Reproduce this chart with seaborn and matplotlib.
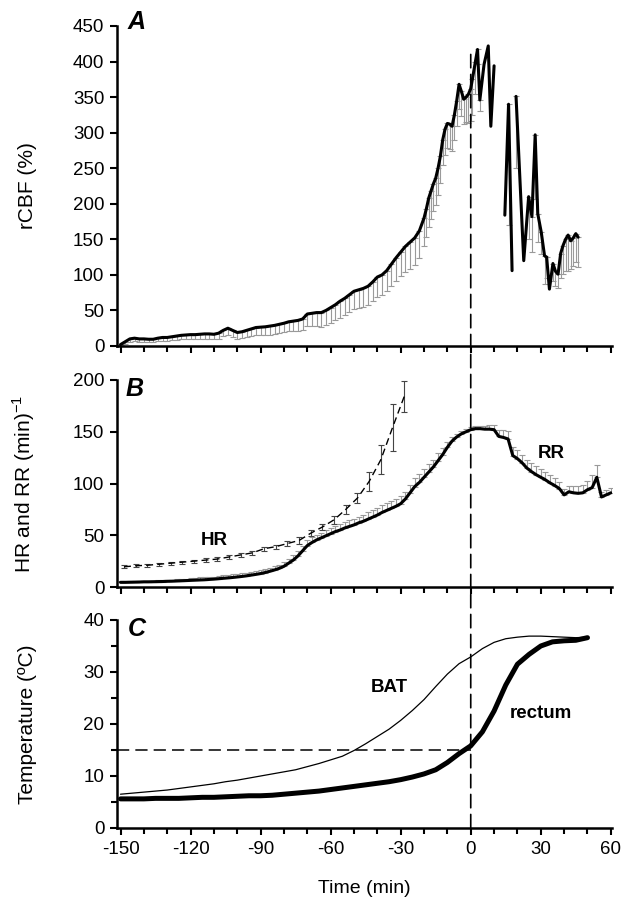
import numpy as np
import pandas as pd
import matplotlib
matplotlib.use('Agg')
import matplotlib.pyplot as plt
from matplotlib.patches import ConnectionPatch
from matplotlib.ticker import MultipleLocator
import seaborn as sns

# ---- panel A: rCBF (%) ----
cbf_t_early = np.arange(-150, -21, 2)
cbf_early = [2, 6, 10, 11, 10, 10, 9.5, 9.5, 11, 12, 12, 13, 14, 15, 15.5,
             16, 16, 16.5, 17, 17, 16.5, 18, 22, 25, 22, 19, 20, 22, 24, 26,
             26.5, 27, 28, 29, 30.5, 32, 34, 35, 36, 38, 45, 46, 47, 47, 50,
             54, 58, 63, 67, 72, 77, 79, 81, 84, 90, 97, 100, 106, 115, 124, 132, 140, 146, 152, 162]
cbf_err_early = [2, 3, 4, 4, 4, 4, 4, 4, 4, 5, 5, 5, 5, 5, 6,
                 6, 6, 6, 7, 7, 7, 8, 8, 10, 10, 9, 9, 10, 10, 11,
                 11, 11, 12, 12, 12, 13, 13, 14, 15, 16, 17, 18, 19, 20, 20,
                 22, 22, 23, 24, 24, 25, 25, 26, 26, 27, 28, 28, 29, 30, 32, 34, 36, 38, 38, 38]

cbf_t_peak = [-20, -19, -18, -17, -16, -15, -14, -13, -12, -11, -10, -9, -8, -7, -6, -5, -4,
              -3, -2, -1, 0, 0.7, 2, 2.9, 3.9, 5.7, 7.5, 8.6, 10]
cbf_peak = [180, 193, 208, 218, 228, 236, 250, 267, 290, 305, 313, 312, 309, 325, 345, 368, 358,
            347, 350, 354, 362, 375, 400, 417, 346, 396, 422, 309, 394]
cbf_err_peak = [40, 40, 40, 40, 38, 38, 38, 38, 36, 36, 35, 35, 35, 35, 35, 35, 35,
                35, 35, 40, 45, 50, 45, 20, 16, 0, 0, 0, 0]

cbf_t_late1 = [14.6, 16.2, 17.7]
cbf_late1 = [184, 340, 106]
cbf_err_late1 = [0, 170, 0]

cbf_t_late2 = [19.4, 22.7, 24.8, 26.2, 27.6, 28.7, 30.2, 31.6, 32.5, 33.7, 35.2, 36.3, 37.4,
               38.5, 39.5, 40.6, 41.7, 42.8, 43.9, 45, 46]
cbf_late2 = [351, 120, 210, 182, 297, 186, 160, 127, 125, 80, 116, 105, 101,
             130, 141, 150, 156, 148, 152, 158, 153]
cbf_err_late2 = [100, 0, 60, 50, 90, 40, 30, 40, 30, 0, 25, 20, 20,
                 35, 40, 45, 50, 40, 40, 40, 42]

# ---- panel B: HR and RR (min^-1) ----
hr_t = np.arange(-148.5, -28, 5)
hr = [19.5, 20.5, 21, 22, 23, 24, 25, 26, 27, 29, 31, 33, 37,
      39, 42, 45, 52, 58, 65, 75, 86, 102, 123, 154, 184]
hr_err = [1.5, 1.5, 1.5, 1.5, 1.5, 1.5, 1.5, 2, 2, 2, 2, 2, 2,
          2, 2.5, 3, 3, 3, 4, 4, 5, 9, 14, 23, 15]

rr_t = np.arange(-150, 61, 2)
rr = [4.5, 4.5, 4.6, 4.7, 4.8, 5.0, 5.0, 5.1, 5.2, 5.3, 5.5, 5.6, 5.8, 6.0, 6.2,
      6.4, 6.6, 6.8, 7.0, 7.3, 7.6, 8.0, 8.4, 8.8, 9.2, 9.7, 10.2, 10.8, 11.5, 12.2,
      13.0, 14.0, 15.2, 16.5, 18.0, 20.0, 23.0, 26.0, 30.0, 35.0, 40.0, 43.0, 45.5, 47.5, 49.5,
      51.5, 53.5, 55.0, 57.0, 58.5, 60.0, 62.0, 63.5, 65.5, 67.5, 69.5, 72.0, 74.0, 76.0, 78.0,
      80.5, 85.0, 91.0, 97.0, 101.0, 106.0, 111.0, 116.0, 122.0, 128.0, 135.0, 141.0, 145.0, 148.0, 150.0,
      152.0, 153.0, 153.0, 152.5, 152.5, 152.0, 145.5, 144.5, 143.0, 127.0, 124.0, 120.0, 115.0, 111.5, 108.5,
      106.0, 103.5, 100.5, 98.0, 95.0, 89.0, 92.0, 91.0, 90.5, 91.0, 94.0, 96.0, 106.0, 87.0, 89.0, 91.0]
rr_err = [1, 1, 1, 1, 1, 1, 1, 1, 1.5, 1.5, 1.5, 1.5, 2, 2, 2,
          2, 2, 2.5, 2.5, 2.5, 2.5, 2.5, 3, 3, 3, 3, 3, 3, 3, 3,
          3, 3, 3, 3.5, 3.5, 4, 4, 4.5, 4.5, 5, 5, 5, 5, 5, 5.5,
          5.5, 5.5, 6, 6, 6, 6, 6, 6.5, 6.5, 6.5, 7, 7, 7, 7, 7,
          7, 7, 8, 8, 8, 8, 8, 7, 7, 6, 5, 4, 3, 3, 2.5,
          2.5, 2.5, 3, 3, 4, 5, 6, 7, 8, 8, 8, 8, 8, 8, 8,
          8, 8, 8, 7, 6, 6, 6, 7, 7, 8, 8, 12, 12, 5, 5, 5]

# ---- panel C: temperature (ºC) ----
temp_t = np.arange(-150, 51, 5)
bat = [6.5, 6.7, 6.9, 7.1, 7.3, 7.6, 7.9, 8.2, 8.5, 8.9, 9.2, 9.6, 10.0, 10.4,
       10.8, 11.2, 11.8, 12.4, 13.1, 13.8, 14.9, 16.2, 17.6, 19.0, 20.7, 22.6, 24.7,
       27.2, 29.6, 31.6, 32.9, 34.5, 35.7, 36.4, 36.7, 36.9, 36.9, 36.8, 36.7, 36.6, 36.7]
rectum = [5.6, 5.6, 5.6, 5.7, 5.7, 5.7, 5.8, 5.9, 5.9, 6.0, 6.1, 6.2, 6.2, 6.3,
          6.5, 6.7, 6.9, 7.1, 7.4, 7.7, 8.0, 8.3, 8.6, 8.9, 9.3, 9.8, 10.4,
          11.2, 12.6, 14.3, 15.8, 18.5, 22.5, 27.5, 31.5, 33.4, 35.0, 35.8, 36.0, 36.1, 36.6]
temp_ref = 15
onset_t = 0

sns.set_style('ticks', {'axes.edgecolor': 'black', 'text.color': 'black',
                        'axes.labelcolor': 'black', 'xtick.color': 'black',
                        'ytick.color': 'black'})
plt.rcParams['font.family'] = ['Liberation Sans', 'DejaVu Sans']
plt.rcParams['axes.linewidth'] = 1.8
plt.rcParams['axes.unicode_minus'] = False

W, H = 632, 902
fig = plt.figure(figsize=(W / 100, H / 100), dpi=100)
left, width = 117 / W, 495 / W
axA = fig.add_axes([left, 1 - 346 / H, width, 320 / H])
axB = fig.add_axes([left, 1 - 587 / H, width, 207 / H])
axC = fig.add_axes([left, 1 - 828 / H, width, 208 / H])

GREY = '#9a9a9a'


def errbars(ax, t, v, e, lower=True, color=GREY, sym=False):
    t = np.asarray(t, float); v = np.asarray(v, float); e = np.asarray(e, float)
    m = e > 0
    z = np.zeros(m.sum())
    if sym:
        yerr = e[m]
    elif lower:
        yerr = [e[m], z]
    else:
        yerr = [z, e[m]]
    ax.errorbar(t[m], v[m], yerr=yerr, fmt='none', ecolor=color, elinewidth=0.8,
                capsize=2, capthick=0.8, zorder=2)


# A
errbars(axA, cbf_t_early, cbf_early, cbf_err_early)
errbars(axA, cbf_t_peak, cbf_peak, cbf_err_peak)
errbars(axA, cbf_t_late1, cbf_late1, cbf_err_late1)
errbars(axA, cbf_t_late2, cbf_late2, cbf_err_late2)
cbf_pre = pd.DataFrame({'t': list(cbf_t_early) + cbf_t_peak, 'v': cbf_early + cbf_peak})
sns.lineplot(data=cbf_pre, x='t', y='v', ax=axA, color='black', lw=2.2, estimator=None, sort=False)
sns.lineplot(x=cbf_t_late1, y=cbf_late1, ax=axA, color='black', lw=2.2, estimator=None, sort=False)
sns.lineplot(x=cbf_t_late2, y=cbf_late2, ax=axA, color='black', lw=2.2, estimator=None, sort=False)
axA.set_ylim(0, 450)
axA.yaxis.set_major_locator(MultipleLocator(50))
axA.set_ylabel('rCBF (%)')

# B
errbars(axB, rr_t, rr, rr_err, lower=False)
errbars(axB, hr_t, hr, hr_err, color='#444444', sym=True)
sns.lineplot(x=hr_t, y=hr, ax=axB, color='black', lw=1.0, linestyle=(0, (5, 3)),
             estimator=None, sort=False)
sns.lineplot(x=rr_t, y=rr, ax=axB, color='black', lw=2.2, estimator=None, sort=False)
axB.set_ylim(0, 200)
axB.yaxis.set_major_locator(MultipleLocator(50))
axB.set_ylabel('HR and RR (min)$^{\\mathregular{-1}}$')
axB.text(-110, 45, 'HR', fontsize=13.5, fontweight='bold', ha='center', va='center')
axB.text(34.5, 129, 'RR', fontsize=13.5, fontweight='bold', ha='center', va='center')

# C
temp = pd.DataFrame({'t': np.concatenate([temp_t, temp_t]), 'T': bat + rectum,
                     'site': ['BAT'] * len(bat) + ['rectum'] * len(rectum)})
sns.lineplot(data=temp, x='t', y='T', hue='site', size='site', sizes={'BAT': 0.9, 'rectum': 3.6},
             palette={'BAT': 'black', 'rectum': 'black'}, ax=axC, estimator=None, legend=False)
axC.hlines(temp_ref, -151.5, onset_t, colors='black', linestyles=(0, (8, 4)), lw=1.1)
axC.set_ylim(0, 40)
axC.yaxis.set_major_locator(MultipleLocator(10))
axC.yaxis.set_minor_locator(MultipleLocator(5))
axC.set_ylabel('Temperature (ºC)')
axC.set_xlabel('Time (min)', fontsize=14, labelpad=16)
axC.text(-35, 27, 'BAT', fontsize=13.5, fontweight='bold', ha='center', va='center')
axC.text(30, 22, 'rectum', fontsize=13.5, fontweight='bold', ha='center', va='center')

for ax in [axA, axB, axC]:
    ax.set_xlim(-151.5, 60.5)
    ax.xaxis.set_major_locator(MultipleLocator(30))
    ax.xaxis.set_minor_locator(MultipleLocator(10))
    ax.tick_params(which='major', direction='out', length=5, width=1.5, labelsize=13.5, pad=4)
    ax.tick_params(which='minor', direction='out', length=4, width=1.5)
    if ax is not axC:
        ax.tick_params(axis='x', labelbottom=False)
        ax.set_xlabel('')
    ax.yaxis.label.set_size(15)
    ax.yaxis.set_label_coords(-0.162, 0.5)
    for s in ['top', 'right']:
        ax.spines[s].set_visible(False)

# panel letters
for letter, (px, py) in zip('ABC', [(137, 22), (135, 389), (137, 629)]):
    fig.text(px / W, 1 - py / H, letter, fontsize=18, fontweight='bold',
             fontstyle='italic', ha='center', va='center')

# dashed line marking onset, running through all three panels
con = ConnectionPatch(xyA=(onset_t, 410), coordsA=axA.transData, xyB=(onset_t, 0),
                      coordsB=axC.transData, color='black', lw=1.2, linestyle=(0, (8, 4)))
fig.add_artist(con)

fig.savefig('out.png', dpi=100)
